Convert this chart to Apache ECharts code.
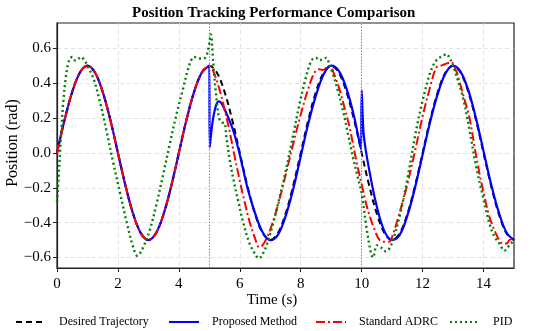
<!DOCTYPE html>
<html><head><meta charset="utf-8">
<script src="https://cdn.jsdelivr.net/npm/echarts@6/dist/echarts.min.js"></script>
<style>html,body{margin:0;padding:0;background:#fff}#c{width:550px;height:331px}</style>
</head><body><div id="c"></div>
<script>
const titleText = 'Position Tracking Performance Comparison';
const xName = 'Time (s)';
const yName = 'Position (rad)';
const seriesNames = ['Desired Trajectory', 'Proposed Method', 'Standard ADRC', 'PID'];
const xTicks = [0, 2, 4, 6, 8, 10, 12, 14];
const yTicks = [-0.6, -0.4, -0.2, 0, 0.2, 0.4, 0.6];
const eventTimes = [5, 10];

const desired = [[0,0],[0.25,0.19],[0.5,0.35],[0.75,0.46],[1,0.5],[1.25,0.46],[1.5,0.35],[1.75,0.19],[2,0],[2.25,-0.19],[2.5,-0.35],[2.75,-0.46],[3,-0.5],[3.25,-0.46],[3.5,-0.35],[3.75,-0.19],[4,0],[4.25,0.19],[4.5,0.35],[4.75,0.46],[5,0.5],[5.25,0.46],[5.5,0.35],[5.75,0.19],[6,0],[6.25,-0.19],[6.5,-0.35],[6.75,-0.46],[7,-0.5],[7.25,-0.46],[7.5,-0.35],[7.75,-0.19],[8,0],[8.25,0.19],[8.5,0.35],[8.75,0.46],[9,0.5],[9.25,0.46],[9.5,0.35],[9.75,0.19],[10,0],[10.25,-0.19],[10.5,-0.35],[10.75,-0.46],[11,-0.5],[11.25,-0.46],[11.5,-0.35],[11.75,-0.19],[12,0],[12.25,0.19],[12.5,0.35],[12.75,0.46],[13,0.5],[13.25,0.46],[13.5,0.35],[13.75,0.19],[14,0],[14.25,-0.19],[14.5,-0.35],[14.75,-0.46],[15,-0.5]];

const proposed = [[0,0],[0.25,0.19],[0.5,0.35],[0.75,0.46],[1,0.5],[1.25,0.46],[1.5,0.35],[1.75,0.19],[2,0],[2.25,-0.19],[2.5,-0.35],[2.75,-0.46],[3,-0.5],[3.25,-0.46],[3.5,-0.35],[3.75,-0.19],[4,0],[4.25,0.19],[4.5,0.35],[4.75,0.46],[5,0.5],[5.01,0.03],[5.1,0.17],[5.2,0.26],[5.3,0.295],[5.4,0.285],[5.5,0.25],[5.65,0.19],[5.8,0.12],[6,-0.01],[6.25,-0.2],[6.5,-0.345],[6.75,-0.455],[7,-0.5],[7.25,-0.47],[7.5,-0.365],[7.75,-0.21],[8,-0.02],[8.25,0.17],[8.5,0.33],[8.75,0.45],[9,0.5],[9.25,0.47],[9.5,0.37],[9.75,0.21],[9.98,0.02],[10.0,0.36],[10.07,0.1],[10.25,-0.1],[10.5,-0.31],[10.75,-0.45],[11,-0.5],[11.25,-0.47],[11.5,-0.36],[11.75,-0.2],[12,-0.01],[12.25,0.18],[12.5,0.34],[12.75,0.455],[13,0.5],[13.25,0.465],[13.5,0.36],[13.75,0.2],[14,0.01],[14.25,-0.18],[14.5,-0.34],[14.75,-0.455],[15,-0.5]];

const adrc = [[0,0],[0.25,0.19],[0.5,0.35],[0.75,0.46],[1,0.5],[1.25,0.46],[1.5,0.35],[1.75,0.19],[2,0],[2.25,-0.19],[2.5,-0.35],[2.75,-0.46],[3,-0.5],[3.25,-0.46],[3.5,-0.35],[3.75,-0.19],[4,0],[4.25,0.19],[4.5,0.35],[4.75,0.46],[5,0.5],[5.17,0.45],[5.34,0.36],[5.5,0.25],[5.67,0.12],[5.83,-0.02],[6,-0.16],[6.17,-0.29],[6.33,-0.4],[6.5,-0.49],[6.63,-0.54],[6.72,-0.535],[6.85,-0.5],[7,-0.44],[7.25,-0.3],[7.5,-0.13],[7.75,0.05],[8,0.22],[8.25,0.37],[8.45,0.46],[8.6,0.48],[8.72,0.475],[8.85,0.49],[8.95,0.5],[9.1,0.45],[9.28,0.36],[9.45,0.25],[9.6,0.15],[9.83,-0.05],[10,-0.18],[10.13,-0.28],[10.26,-0.36],[10.4,-0.43],[10.59,-0.5],[10.75,-0.51],[10.9,-0.51],[11,-0.48],[11.2,-0.37],[11.47,-0.2],[11.75,0.01],[12,0.21],[12.25,0.38],[12.45,0.49],[12.6,0.5],[12.75,0.51],[12.94,0.52],[13.1,0.47],[13.21,0.41],[13.37,0.31],[13.54,0.2],[13.7,0.04],[13.87,-0.12],[14.03,-0.25],[14.2,-0.37],[14.4,-0.46],[14.55,-0.51],[14.63,-0.52],[14.75,-0.52],[14.85,-0.5],[15,-0.49]];

const pid = [[0,-0.28],[0.05,-0.15],[0.1,0],[0.15,0.15],[0.2,0.28],[0.28,0.42],[0.35,0.5],[0.42,0.54],[0.5,0.55],[0.6,0.53],[0.7,0.54],[0.8,0.55],[0.9,0.53],[0.97,0.51],[1.19,0.43],[1.4,0.3],[1.62,0.13],[1.85,-0.06],[2.07,-0.23],[2.29,-0.4],[2.5,-0.54],[2.64,-0.59],[2.83,-0.54],[3.05,-0.44],[3.27,-0.29],[3.49,-0.12],[3.7,0.05],[3.92,0.22],[4.14,0.37],[4.3,0.48],[4.4,0.53],[4.5,0.55],[4.62,0.545],[4.75,0.54],[4.88,0.55],[4.97,0.6],[5.05,0.68],[5.13,0.51],[5.24,0.3],[5.32,0.2],[5.4,0.175],[5.5,0.17],[5.56,0.09],[5.67,-0.04],[5.8,-0.16],[5.94,-0.27],[6.1,-0.39],[6.3,-0.51],[6.5,-0.58],[6.63,-0.605],[6.75,-0.58],[6.9,-0.52],[7.1,-0.4],[7.3,-0.26],[7.5,-0.11],[7.75,0.1],[7.97,0.29],[8.15,0.42],[8.3,0.51],[8.4,0.54],[8.5,0.545],[8.62,0.53],[8.72,0.54],[8.84,0.545],[8.95,0.5],[9.06,0.45],[9.2,0.37],[9.39,0.24],[9.55,0.11],[9.72,-0.03],[9.86,-0.13],[10,-0.23],[10.15,-0.42],[10.3,-0.57],[10.37,-0.6],[10.5,-0.53],[10.62,-0.54],[10.8,-0.565],[10.9,-0.55],[11.03,-0.5],[11.25,-0.36],[11.5,-0.15],[11.8,0.14],[12,0.3],[12.23,0.45],[12.4,0.52],[12.55,0.545],[12.7,0.56],[12.78,0.567],[12.9,0.54],[13,0.5],[13.32,0.32],[13.54,0.13],[13.76,-0.08],[13.98,-0.25],[14.2,-0.41],[14.36,-0.48],[14.52,-0.52],[14.69,-0.56],[14.8,-0.54],[14.9,-0.52],[15,-0.5]];

const FONT = 'Liberation Serif';
const chart = echarts.init(document.getElementById('c'), null, {renderer: 'canvas'});

function lineSeries(name, data, color, type, width, z) {
  return {
    name, type: 'line', data, z,
    showSymbol: false, symbol: 'none', smooth: 0.35,
    lineStyle: {color, type, width, cap: 'butt'},
    itemStyle: {color},
    emphasis: {disabled: true},
    animation: false
  };
}

const series = [
  lineSeries(seriesNames[0], desired, '#000000', [6, 4], 2, 2),
  lineSeries(seriesNames[1], proposed, '#0000ff', 'solid', 2.2, 3),
  lineSeries(seriesNames[2], adrc, '#ff0000', [9, 3, 2, 3], 2, 4),
  lineSeries(seriesNames[3], pid, '#008000', [2, 3], 2.4, 5)
];
series[0].markLine = {
  silent: true, symbol: ['none', 'none'], label: {show: false}, animation: false,
  lineStyle: {type: [1.5, 1.5], color: '#8c8c8c', width: 1},
  emphasis: {disabled: true},
  data: eventTimes.map(t => ({xAxis: t}))
};

const legendLefts = [15, 168, 315, 449];
const legends = seriesNames.map((n, i) => ({
  data: [n], left: legendLefts[i], top: 316, padding: 0, itemWidth: 30, itemHeight: 14,
  itemStyle: {opacity: 0},
  textStyle: {fontFamily: FONT, fontSize: 12, color: '#000', padding: [0, 0, 0, 8]},
  selectedMode: false
}));

const splitStyle = {color: '#dcdcdc', type: [4, 3], width: 0.8};

chart.setOption({
  animation: false,
  title: {text: titleText, left: 127, top: 1,
    textStyle: {fontFamily: FONT, fontWeight: 'bold', fontSize: 15, color: '#000'}},
  grid: {left: 57, right: 36, top: 23, bottom: 63, show: true, borderColor: '#222', borderWidth: 1.2, backgroundColor: 'transparent'},
  legend: legends,
  xAxis: {
    type: 'value', min: 0, max: 15, interval: 2,
    axisLine: {show: true, onZero: false, lineStyle: {color: '#222', width: 1.2}},
    axisTick: {show: true, length: 4, customValues: xTicks, lineStyle: {color: '#222', width: 1}},
    axisLabel: {customValues: xTicks, fontFamily: FONT, fontSize: 15, color: '#000', margin: 9},
    splitLine: {show: true, lineStyle: splitStyle}
  },
  yAxis: {
    type: 'value', min: -0.66, max: 0.745, splitNumber: 7,
    axisLine: {show: true, onZero: false, lineStyle: {color: '#222', width: 1.2}},
    axisTick: {show: true, length: 4, customValues: yTicks, lineStyle: {color: '#222', width: 1}},
    axisLabel: {customValues: yTicks, fontFamily: FONT, fontSize: 15, color: '#000', margin: 6,
      formatter: v => (v < -1e-9 ? '\u2212' : '') + Math.abs(v).toFixed(1)},
    splitLine: {show: true, lineStyle: splitStyle}
  },
  graphic: [
    {type: 'text', x: 272, y: 300, silent: true,
      style: {text: xName, fontFamily: FONT, fontSize: 15, fill: '#000', align: 'center', verticalAlign: 'middle'}},
    {type: 'text', x: 13, y: 143, rotation: Math.PI / 2, silent: true,
      style: {text: yName, fontFamily: FONT, fontSize: 16, fill: '#000', align: 'center', verticalAlign: 'middle'}}
  ],
  series
});
</script></body></html>
